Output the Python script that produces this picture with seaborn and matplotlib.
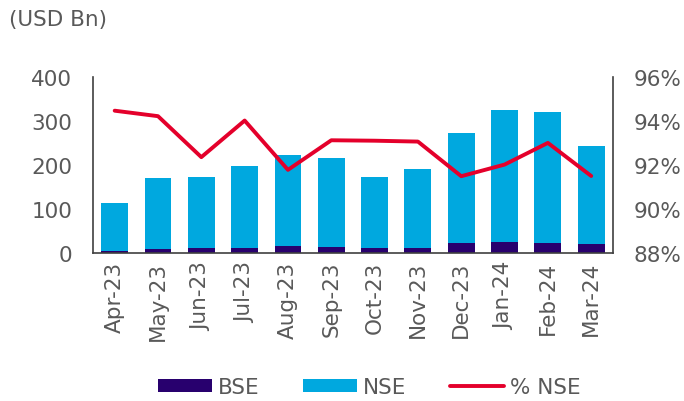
import numpy as np
import pandas as pd
import matplotlib
matplotlib.use("Agg")
import matplotlib.pyplot as plt
import seaborn as sns
from matplotlib.patches import Patch
from matplotlib.lines import Line2D

months = ["Apr-23", "May-23", "Jun-23", "Jul-23", "Aug-23", "Sep-23",
          "Oct-23", "Nov-23", "Dec-23", "Jan-24", "Feb-24", "Mar-24"]
bse = [4, 8, 11, 10, 16, 13, 11, 10, 22, 25, 22, 20]
nse = [109, 162, 162, 188, 207, 204, 162, 181, 252, 301, 298, 223]
pct_nse = [94.48, 94.23, 92.36, 94.03, 91.78, 93.13, 93.11, 93.07, 91.49, 92.02, 93.01, 91.50]

C_BSE = "#28006E"
C_NSE = "#00A8DF"
C_RED = "#E4002B"
TXT = "#595959"
SPINE = "#404040"
FS = 15.5

sns.set_theme(style="white")
plt.rcParams["font.family"] = ["DejaVu Sans"]

df = pd.DataFrame({"month": months, "bse": bse, "nse": nse, "pct": pct_nse})
df["total"] = df["bse"] + df["nse"]

fig = plt.figure(figsize=(6.84, 4.02), dpi=100)
ax = fig.add_axes([0.136, 0.369, 0.760, 0.436])

sns.barplot(data=df, x="month", y="total", color=C_NSE, width=0.62,
            saturation=1, ax=ax, linewidth=0)
sns.barplot(data=df, x="month", y="bse", color=C_BSE, width=0.62,
            saturation=1, ax=ax, linewidth=0)

ax.set_xlim(-0.5, 11.5)
ax.set_ylim(0, 400)
ax.set_yticks([0, 100, 200, 300, 400])
ax.set_xlabel("")
ax.set_ylabel("")
ax.tick_params(axis="y", labelsize=FS, labelcolor=TXT, length=0, pad=15)
ax.tick_params(axis="x", labelsize=FS, labelcolor=TXT, length=0, pad=6, rotation=90)

ax2 = ax.twinx()
sns.lineplot(x=np.arange(len(months)), y=df["pct"], color=C_RED, linewidth=2.8,
             ax=ax2)
ax2.set_ylim(88, 96)
ax2.set_yticks([88, 90, 92, 94, 96])
ax2.set_yticklabels([f"{v}%" for v in [88, 90, 92, 94, 96]])
ax2.set_ylabel("")
ax2.tick_params(axis="y", labelsize=FS, labelcolor=TXT, length=0, pad=15)
ax2.set_xlim(-0.5, 11.5)

for a in (ax, ax2):
    a.spines["top"].set_visible(False)
    for s in ("left", "right", "bottom"):
        a.spines[s].set_color(SPINE)
        a.spines[s].set_linewidth(1.2)
ax.spines["right"].set_visible(False)
ax2.spines["left"].set_visible(False)
ax2.spines["bottom"].set_visible(False)

fig.text(0.013, 0.95, "(USD Bn)", fontsize=FS, color=TXT, va="center", ha="left")

handles = [Patch(facecolor=C_BSE, edgecolor="none"),
           Patch(facecolor=C_NSE, edgecolor="none"),
           Line2D([0], [0], color=C_RED, linewidth=2.8)]
fig.legend(handles, ["BSE", "NSE", "% NSE"], loc="center", bbox_to_anchor=(0.54, 0.035),
           ncol=3, frameon=False, fontsize=FS, labelcolor=TXT,
           handlelength=2.5, handleheight=0.55, handletextpad=0.3, columnspacing=2.0)

fig.savefig("out.png", dpi=100)
